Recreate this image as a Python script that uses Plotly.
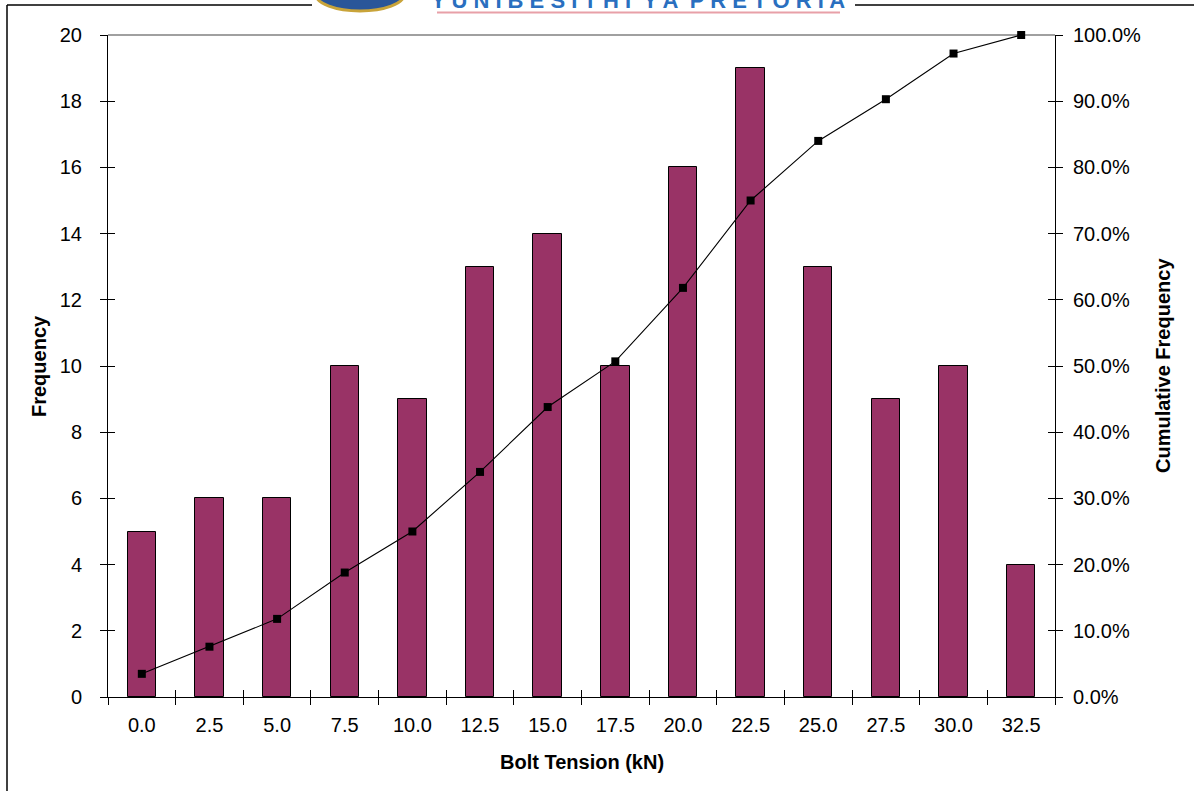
import plotly.graph_objects as go

# ---- data ----
bin_labels = ["0.0", "2.5", "5.0", "7.5", "10.0", "12.5", "15.0", "17.5",
              "20.0", "22.5", "25.0", "27.5", "30.0", "32.5"]
frequency = [5, 6, 6, 10, 9, 13, 14, 10, 16, 19, 13, 9, 10, 4]
cumulative = [0.035, 0.076, 0.118, 0.188, 0.250, 0.340, 0.438, 0.507,
              0.618, 0.750, 0.840, 0.903, 0.972, 1.000]
freq_ticks = list(range(0, 21, 2))
cum_ticks = [i / 10 for i in range(11)]

W, H = 1194, 791
L, R, T, B = 108, 1055, 35, 697
PW, PH = R - L, B - T

def px(x):
    return (x - L) / PW

def py(y):
    return (B - y) / PH

FONT = "Liberation Sans, Arial, sans-serif"
pos = list(range(len(bin_labels)))
bounds = [i - 0.5 for i in range(len(bin_labels) + 1)]
xr = [-0.5, len(bin_labels) - 0.5]

fig = go.Figure()
fig.add_trace(go.Bar(x=pos, y=frequency, marker=dict(color="#993366", line=dict(color="black", width=1)),
                     width=0.42, xaxis="x", yaxis="y", showlegend=False))
fig.add_trace(go.Scatter(x=pos, y=cumulative, mode="lines+markers",
                         line=dict(color="black", width=1.1),
                         marker=dict(symbol="square", size=8, color="black"),
                         xaxis="x", yaxis="y2", showlegend=False, cliponaxis=False))
# dummy traces so tick-only overlay axes render
for xa, ya in [("x2", "y3"), ("x3", "y4"), ("x2", "y5")]:
    fig.add_trace(go.Scatter(x=[None], y=[None], xaxis=xa, yaxis=ya, showlegend=False, hoverinfo="skip"))

tickfont = dict(family=FONT, size=20, color="black")
fig.update_layout(
    width=W, height=H, margin=dict(l=L, r=W - R, t=T, b=H - B),
    paper_bgcolor="white", plot_bgcolor="white", bargap=0,
    font=dict(family=FONT, color="black"),
    xaxis=dict(range=xr, tickvals=pos, ticktext=bin_labels, ticks="", showgrid=False,
               zeroline=False, showline=True, linecolor="black", linewidth=1,
               tickfont=tickfont, ticklabelstandoff=10),
    xaxis2=dict(range=xr, overlaying="x", tickvals=bounds, ticks="outside", ticklen=7,
                tickcolor="black", showticklabels=False, showgrid=False, zeroline=False, showline=False),
    xaxis3=dict(range=xr, overlaying="x", tickvals=bounds, ticks="inside", ticklen=7,
                tickcolor="black", showticklabels=False, showgrid=False, zeroline=False, showline=False),
    yaxis=dict(range=[0, 20], tickvals=freq_ticks, ticks="outside", ticklen=7, tickcolor="black",
               showgrid=False, zeroline=False, showline=True, linecolor="black", linewidth=1,
               tickfont=tickfont, ticklabelstandoff=14),
    yaxis2=dict(range=[0, 1], overlaying="y", side="right", tickvals=cum_ticks, tickformat=".1%",
                ticks="outside", ticklen=7, tickcolor="black", showgrid=False, zeroline=False,
                showline=True, linecolor="black", linewidth=1, tickfont=tickfont, ticklabelstandoff=6),
    yaxis3=dict(range=[0, 20], overlaying="y", tickvals=freq_ticks, ticks="inside", ticklen=7,
                tickcolor="black", showticklabels=False, showgrid=False, zeroline=False, showline=False),
    yaxis4=dict(range=[0, 1], overlaying="y", side="right", tickvals=cum_ticks, ticks="inside",
                ticklen=7, tickcolor="black", showticklabels=False, showgrid=False, zeroline=False,
                showline=False),
    yaxis5=dict(range=[0, 1], overlaying="y", visible=False),
)

shapes = [
    # top plot border (gray)
    dict(type="line", xref="paper", yref="paper", x0=0, x1=1, y0=1, y1=1,
         line=dict(color="#808080", width=1.5), layer="below"),
    # outer frame
    dict(type="line", xref="paper", yref="paper", x0=px(7), x1=px(7), y0=py(5), y1=py(800),
         line=dict(color="black", width=1.5)),
    dict(type="line", xref="paper", yref="paper", x0=px(7), x1=px(312), y0=py(5), y1=py(5),
         line=dict(color="black", width=1.5)),
    dict(type="line", xref="paper", yref="paper", x0=px(855), x1=px(1200), y0=py(5), y1=py(5),
         line=dict(color="black", width=1.5)),
    # logo (cropped)
    dict(type="circle", xref="paper", yref="paper", x0=px(316), x1=px(404), y0=py(-22), y1=py(11),
         fillcolor="#2a5699", line=dict(color="#c9a43a", width=3)),
    dict(type="line", xref="paper", yref="paper", x0=px(437), x1=px(840), y0=py(12.5), y1=py(12.5),
         line=dict(color="#e8a0a8", width=2)),
]
fig.update_layout(shapes=shapes)

annotations = [
    dict(text="<b>Frequency</b>", xref="paper", yref="paper", x=px(39), y=py(366), textangle=-90,
         xanchor="center", yanchor="middle",
         showarrow=False, font=dict(family=FONT, size=20, color="black")),
    dict(text="<b>Cumulative Frequency</b>", xref="paper", yref="paper", x=px(1163), y=py(366),
         xanchor="center", yanchor="middle",
         textangle=-90, showarrow=False, font=dict(family=FONT, size=20, color="black")),
    dict(text="<b>Bolt Tension (kN)</b>", xref="paper", yref="paper", x=px(582), y=py(762),
         xanchor="center", yanchor="middle",
         showarrow=False, font=dict(family=FONT, size=20, color="black")),
    dict(text="<b>Y U N I B E S I T H I  Y A  P R E T O R I A</b>", xref="paper", yref="paper",
         x=px(638), y=py(0), xanchor="center", yanchor="middle", showarrow=False,
         font=dict(family=FONT, size=22, color="#2a6fbf")),
]
fig.update_layout(annotations=annotations)

fig.write_html("out.html")
